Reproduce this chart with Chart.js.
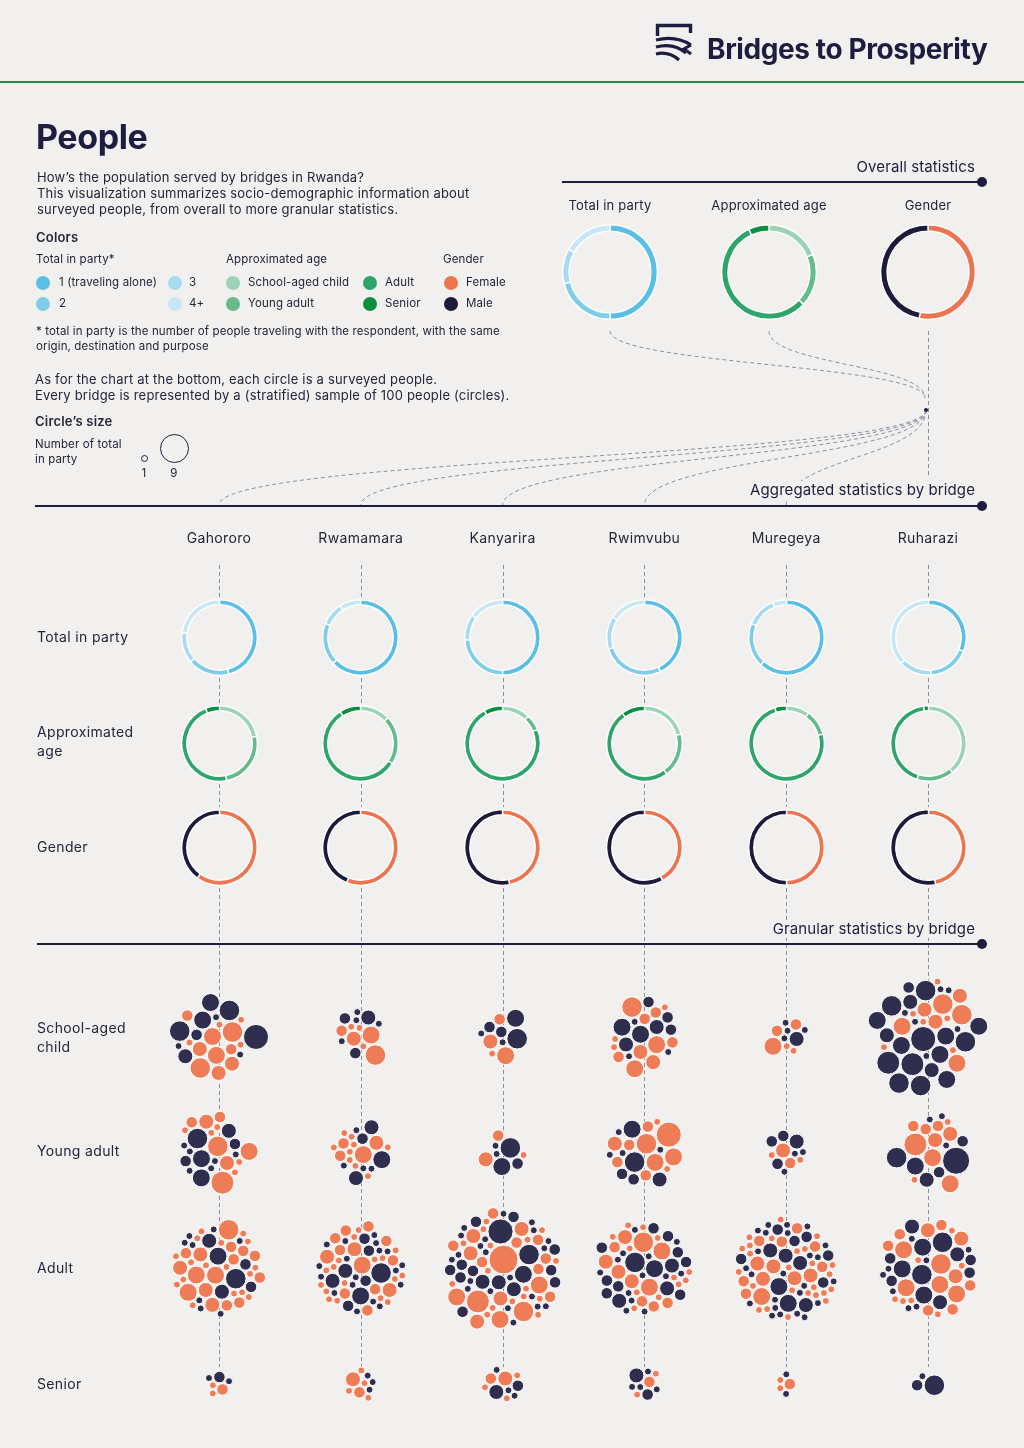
<!DOCTYPE html>
<html>
<head>
<meta charset="utf-8">
<script src="https://cdn.jsdelivr.net/npm/chart.js@4.4.1/dist/chart.umd.min.js"></script>
<style>
  html, body { margin: 0; padding: 0; background: #f1f0ee; }
  #page { position: relative; width: 1024px; height: 1448px; overflow: hidden; background: #f1f0ee;
          font-family: Inter, "Noto Sans", sans-serif; color: #25253a; }
  #page > * { position: absolute; }
  .t { white-space: nowrap; }
  .navy { color: #1d1d3f; }
  .s11 { font-size: 11.5px; line-height: 15px; letter-spacing: 0.12px; }
  .s13 { font-size: 13px; line-height: 16px; letter-spacing: 0.2px; }
  .s14 { font-size: 14px; line-height: 19px; letter-spacing: 0.35px; }
  .s15 { font-size: 15px; line-height: 18px; letter-spacing: 0.1px; }
  .dot { width: 14px; height: 14px; border-radius: 50%; }
  .hline { height: 2px; background: #1d1d3f; }
  .end { width: 10px; height: 10px; border-radius: 50%; background: #1d1d3f; }
  .sec { text-align: right; background: #f1f0ee; padding-left: 6px; }
  .center { transform: translateX(-50%); text-align: center; }
</style>
</head>
<body>
<div id="page">
  <canvas id="people" width="1024" height="1448" style="left:0;top:0;width:1024px;height:1448px;"></canvas>

  <svg style="left:652px;top:21px" width="44" height="44" viewBox="652 21 44 44">
    <path d="M657.5 36 V25.5 H690.5 V33" fill="none" stroke="#1d1d3f" stroke-width="3.4"/>
    <path d="M656 40 C668 37 680 38 691 45" fill="none" stroke="#1d1d3f" stroke-width="3.2"/>
    <path d="M656 47 C667 44 678 46 686 53" fill="none" stroke="#1d1d3f" stroke-width="3.2"/>
    <path d="M656 54 C664 52 672 54 679 60" fill="none" stroke="#1d1d3f" stroke-width="3.2"/>
    <path d="M691 45 L684 49 L691 54" fill="none" stroke="#1d1d3f" stroke-width="3"/>
  </svg>
  <div class="t navy" style="left:707px;top:31px;font-size:28px;line-height:36px;font-weight:700;letter-spacing:-0.4px;">Bridges to Prosperity</div>
  <div style="left:0;top:81px;width:1024px;height:2px;background:#1a923f;"></div>

  <div class="t navy" style="left:36px;top:116px;font-size:34px;line-height:42px;font-weight:700;letter-spacing:-0.4px;">People</div>
  <div class="t s13" style="left:37px;top:169px;">How’s the population served by bridges in Rwanda?<br>This visualization summarizes socio-demographic information about<br>surveyed people, from overall to more granular statistics.</div>
  <div class="t s13" style="left:36px;top:229px;font-weight:600;">Colors</div>
  <div class="t s11" style="left:36px;top:252px;">Total in party*</div>
  <div class="t s11" style="left:226px;top:252px;">Approximated age</div>
  <div class="t s11" style="left:443px;top:252px;">Gender</div>
  <div class="t s11" style="left:36px;top:324px;">* total in party is the number of people traveling with the respondent, with the same<br>origin, destination and purpose</div>
  <div class="t s13" style="left:35px;top:371px;">As for the chart at the bottom, each circle is a surveyed people.<br>Every bridge is represented by a (stratified) sample of 100 people (circles).</div>
  <div class="t s13" style="left:35px;top:413px;font-weight:600;">Circle’s size</div>
  <div class="t s11" style="left:35px;top:437px;">Number of total<br>in party</div>
  <div style="left:141px;top:455px;width:5px;height:5px;border:1px solid #1d1d3f;border-radius:50%;"></div>
  <div style="left:160px;top:434px;width:27px;height:27px;border:1px solid #1d1d3f;border-radius:50%;"></div>
  <div class="t s11 center" style="left:144px;top:466px;">1</div>
  <div class="t s11 center" style="left:174px;top:466px;">9</div>

  <div class="t s15 sec navy" style="right:49px;top:158px;">Overall statistics</div>
  <div class="hline" style="left:562px;top:181px;width:420px;"></div>
  <div class="end" style="left:977px;top:177px;"></div>

  <div class="t s15 sec navy" style="right:49px;top:481px;">Aggregated statistics by bridge</div>
  <div class="hline" style="left:35px;top:505px;width:947px;"></div>
  <div class="end" style="left:977px;top:501px;"></div>
  <div class="t s14" style="left:37px;top:627px;">Total in party</div>
  <div class="t s14" style="left:37px;top:722px;">Approximated<br>age</div>
  <div class="t s14" style="left:37px;top:837px;">Gender</div>

  <div class="t s15 sec navy" style="right:49px;top:920px;">Granular statistics by bridge</div>
  <div class="hline" style="left:37px;top:943px;width:945px;"></div>
  <div class="end" style="left:977px;top:939px;"></div>
  <div class="t s14" style="left:37px;top:1018px;">School-aged<br>child</div>
  <div class="t s14" style="left:37px;top:1141px;">Young adult</div>
  <div class="t s14" style="left:37px;top:1258px;">Adult</div>
  <div class="t s14" style="left:37px;top:1374px;">Senior</div>
</div>

<script>
// ---- data ----
const bridges = ['Gahororo', 'Rwamamara', 'Kanyarira', 'Rwimvubu', 'Muregeya', 'Ruharazi'];
const ageGroups = ['School-aged child', 'Young adult', 'Adult', 'Senior'];
const partyLabels = ['1 (traveling alone)', '2', '3', '4+'];
const genderLabels = ['Female', 'Male'];
const overallTitles = ['Total in party', 'Approximated age', 'Gender'];

// overall donuts (% of surveyed people)
const overallParty = [50, 21, 12, 17];
const overallAge = [19, 18, 56, 7];
const overallGender = [53, 47];

// aggregated donuts, one entry per bridge
const partyByBridge = [[46, 18, 13, 23], [63, 18, 10, 9], [50, 24, 11, 15], [43, 27, 14, 16], [62, 19, 13, 6], [31, 18, 14, 37]];
const ageByBridge = [[22, 25, 47, 6], [13, 21, 57, 9], [12, 7, 73, 8], [21, 19, 50, 10], [10, 11, 74, 5], [39, 16, 43, 2]];
const femaleByBridge = [60, 56, 47, 42, 50, 47];
const maleByBridge = [40, 44, 53, 58, 50, 53];

// granular: one token per surveyed person, F/M + total in party
const childPeople = [
  'F2 F4 F3 F3 F5 F3 F4 F5 M1 M2 M3 M4 F1 F1 F1 M5 M1 M1 M5 M4 F2 M7 F1',
  'F1 F2 F3 M1 F1 M2 M1 F4 M3 M1 F1 M1 M2 F5',
  'M2 M2 F2 F3 M1 M1 M5 M4 F4 F1',
  'M2 F2 F1 M3 F2 M2 M4 F4 F2 F3 M1 M1 F3 M3 M4 F5 M2 M1 F1 F4 F2 F1',
  'M1 M1 M3 F1 F2 M1 M1 F2 F4 F1',
  'F3 F5 F1 F3 M5 M1 M3 F1 F1 M1 M2 F1 M1 M1 M7 F4 M4 F5 M5 F3 M1 M4 M4 M5 M1 M6 F1 M3 M3 F4 M4 M6 M4 M4 M5 F1 M5'
];
const youngPeople = [
  'F1 M5 F3 F2 F1 F5 F1 M4 M1 M1 M3 F2 M1 M2 F3 M1 M1 M2 M4 F6 M1 F1 F4 F1',
  'F1 F2 F2 F1 F1 F1 F4 F1 M1 M2 F1 F1 M1 F3 M1 M4 M3 M1 F1 M3 F1',
  'M4 M1 M5 M2 F1 M1 F3 F2',
  'M5 F2 M2 M1 M2 F2 F4 F5 F2 F3 M4 M1 M1 F2 M1 F7 F4 M3 F1 F1',
  'M2 F3 F2 M1 F1 M1 M3 F1 M1 M2 M2',
  'F3 F3 F2 M1 F2 F1 M1 M1 F6 F4 F2 M8 M2 M4 M2 M3 F4 M5 F1'
];
const adultPeople = [
  'F4 F1 F3 F1 F4 F1 F3 F4 F1 F3 M4 F2 M3 F1 M5 F3 M1 F2 M3 F1 F2 M1 F2 F1 M2 F1 F2 M1 F2 F1 M2 F1 M1 F5 F1 F2 M1 F1 F2 F1 M1 F1 F1 M1 F1 M1 F1',
  'M5 F4 F1 M2 F2 M1 F1 M2 F2 M1 F3 M1 F1 M4 F1 M3 M1 F3 F1 M1 F2 M1 M3 F1 M1 F2 F1 M2 M1 F2 F1 M1 F3 M1 F1 M2 M1 F2 F1 M1 F2 F1 M1 F2 F1 M1 F1 M1 F2 F1 M1 F1 M1 F1 F1 M1',
  'F9 M1 F1 M7 F2 M1 M5 F3 F1 M4 F2 M1 F2 M3 F1 M1 F2 M3 F2 M1 F4 F1 M3 M1 F3 M2 F1 M1 F3 M2 F1 M1 F3 M2 F6 M1 F1 M2 F5 M1 F1 M2 F4 M1 F1 M2 F2 M1 F1 M2 F4 M1 F1 M2 F3 M1 F1 M2 F2 M1 F1 M2 M1 F1 M1 F2 M1 F1 M1 F1 M1 M1',
  'M5 F5 M1 F1 M4 F4 M1 F1 M3 F4 M1 F3 M3 F1 M2 F3 M1 F1 M2 F3 M1 M2 F2 M1 F1 M2 F3 M1 F2 M2 F1 M1 M3 F2 M1 F1 M2 F2 M1 F1 M2 F1 M1 M2 F1 M1 M2 F1 M1 F1',
  'F3 M1 F1 M3 F3 M1 F1 M3 F1 M1 F3 M4 F1 M1 F3 M4 F1 M1 F4 M3 F1 M1 F3 M3 F1 M1 F2 M2 F1 M1 F2 M2 F1 M1 F2 M2 F1 M1 F2 M2 F1 M1 F2 M2 F1 M1 F2 M2 F1 M1 F2 F1 M1 F1 M1 F1 M1 F1 M1 F1 M1 F1 M1 F1 M1 F1 M1 F1 M1 F1 M1 F1 M1 F1',
  'M4 F4 M5 F4 M4 F5 M1 F1 M4 F4 M5 F3 M3 F3 M1 F4 M3 F1 M2 F3 M2 F2 M1 F2 M3 F1 M2 F2 M2 F1 M1 F2 M1 F2 F1 M1 F2 M1 F1 M1 F1'
];
const seniorPeople = [
  'F2 F1 F1 M2 M1 M1',
  'F1 M1 M1 M1 F2 F3 F1 F1 F1',
  'M3 F1 F2 F3 M1 M1 F1 M2 M1 F1',
  'F1 M1 M2 F2 M1 M3 M1 M1 F1',
  'F2 F1 F1 M1 M1',
  'M5 M2 M1'
];

// ---- colours ----
const partyColors = ['#5bbee4', '#80cdea', '#a6dbf0', '#c6e7f3'];
const ageColors = ['#9bd3b6', '#66bb8d', '#2fa56b', '#0a8f3f'];
const genderColors = ['#ec7550', '#1c1b3c'];
const bubbleFemale = '#ee7d57';
const bubbleMale = '#302e4f';

// ---- layout ----
const colStart = 219, colPitch = 141.8;   // bridge columns
const rowStart = 1037, rowPitch = 115.7;  // granular rows
const overallX = [610, 769, 928], overallY = 272;
const aggY = [637, 743, 847];
const hub = { x: 926, y: 410 };
const page = document.getElementById('page');

function add(html) { page.insertAdjacentHTML('beforeend', html); }

// legend
[[partyLabels[0], partyColors[0], 43, 59, 283], [partyLabels[1], partyColors[1], 43, 59, 304],
 [partyLabels[2], partyColors[2], 175, 189, 283], [partyLabels[3], partyColors[3], 175, 189, 304],
 [ageGroups[0], ageColors[0], 233, 248, 283], [ageGroups[1], ageColors[1], 233, 248, 304],
 [ageGroups[2], ageColors[2], 370, 385, 283], [ageGroups[3], ageColors[3], 370, 385, 304],
 [genderLabels[0], genderColors[0], 451, 466, 283], [genderLabels[1], genderColors[1], 451, 466, 304]
].forEach(([label, color, dx, tx, y]) => {
  add(`<div class="dot" style="left:${dx - 7}px;top:${y - 7}px;background:${color}"></div>`);
  add(`<div class="t s11" style="left:${tx}px;top:${y - 8}px">${label}</div>`);
});

overallTitles.forEach((title, i) => {
  add(`<div class="t s13 center" style="left:${overallX[i]}px;top:197px">${title}</div>`);
});
bridges.forEach((name, i) => {
  add(`<div class="t s14 center" style="left:${colStart + colPitch * i}px;top:528px">${name}</div>`);
});

function donut(cx, cy, size, values, colors, labels) {
  const c = document.createElement('canvas');
  c.width = size; c.height = size;
  c.style.cssText = `left:${cx - size / 2}px;top:${cy - size / 2}px;width:${size}px;height:${size}px;`;
  page.appendChild(c);
  new Chart(c, {
    type: 'doughnut',
    data: { labels, datasets: [{ data: values, backgroundColor: colors, borderColor: '#ffffff', borderWidth: 1.4 }] },
    options: {
      responsive: false, animation: false, devicePixelRatio: 1, cutout: '86.5%',
      plugins: { legend: { display: false }, tooltip: { enabled: false } }
    }
  });
}

donut(overallX[0], overallY, 96, overallParty, partyColors, partyLabels);
donut(overallX[1], overallY, 96, overallAge, ageColors, ageGroups);
donut(overallX[2], overallY, 96, overallGender, genderColors, genderLabels);
bridges.forEach((b, i) => {
  const x = colStart + colPitch * i;
  donut(x, aggY[0], 77, partyByBridge[i], partyColors, partyLabels);
  donut(x, aggY[1], 77, ageByBridge[i], ageColors, ageGroups);
  donut(x, aggY[2], 77, [femaleByBridge[i], maleByBridge[i]], genderColors, genderLabels);
});

// ---- circle packing for the granular clusters ----
// visible fill radius for a party size; a 1px white halo sits outside it
function radiusFor(n) { return 3 + 11 * (Math.sqrt(n) - 1) / 2; }

function packCluster(tokens) {
  const items = tokens.trim().split(/\s+/).map(t => ({ g: t[0], n: +t.slice(1), r: radiusFor(+t.slice(1)) + 1 }));
  const placed = [];
  const gap = 0.2;
  for (const it of items) {
    if (!placed.length) { placed.push({ ...it, x: 0, y: 0 }); continue; }
    let sx = 0, sy = 0, sw = 0;
    placed.forEach(p => { const w = p.r * p.r; sx += p.x * w; sy += p.y * w; sw += w; });
    const cx = sx / sw, cy = sy / sw;
    const cands = [];
    for (const p of placed) {
      const d = p.r + it.r + gap;
      for (let k = 0; k < 16; k++) {
        const a = Math.PI + k * Math.PI / 8;
        cands.push([p.x + d * Math.cos(a), p.y + d * Math.sin(a)]);
      }
    }
    for (let i = 0; i < placed.length; i++) {
      for (let j = i + 1; j < placed.length; j++) {
        const a = placed[i], b = placed[j];
        const ra = a.r + it.r + gap, rb = b.r + it.r + gap;
        const dx = b.x - a.x, dy = b.y - a.y, d = Math.hypot(dx, dy);
        if (d === 0 || d > ra + rb || d < Math.abs(ra - rb)) continue;
        const l = (ra * ra - rb * rb + d * d) / (2 * d);
        const h = Math.sqrt(Math.max(0, ra * ra - l * l));
        const mx = a.x + dx * l / d, my = a.y + dy * l / d;
        cands.push([mx - dy * h / d, my + dx * h / d], [mx + dy * h / d, my - dx * h / d]);
      }
    }
    let best = null, bestD = Infinity;
    for (const c of cands) {
      const dd = Math.hypot(c[0] - cx, c[1] - cy);
      if (dd >= bestD) continue;
      let ok = true;
      for (const p of placed) {
        if (Math.hypot(c[0] - p.x, c[1] - p.y) < p.r + it.r + gap - 0.01) { ok = false; break; }
      }
      if (ok) { best = c; bestD = dd; }
    }
    placed.push({ ...it, x: best[0], y: best[1] });
  }
  let x0 = Infinity, x1 = -Infinity, y0 = Infinity, y1 = -Infinity;
  placed.forEach(p => {
    x0 = Math.min(x0, p.x - p.r); x1 = Math.max(x1, p.x + p.r);
    y0 = Math.min(y0, p.y - p.r); y1 = Math.max(y1, p.y + p.r);
  });
  placed.forEach(p => { p.x -= (x0 + x1) / 2; p.y -= (y0 + y1) / 2; });
  return placed;
}

const females = [], males = [];
[childPeople, youngPeople, adultPeople, seniorPeople].forEach((group, row) => {
  group.forEach((tokens, col) => {
    packCluster(tokens).forEach(p => {
      // bubble radius sits in the middle of the 1px white border
      const pt = { x: col + p.x / colPitch, y: row + p.y / rowPitch, r: p.r - 0.5 };
      (p.g === 'F' ? females : males).push(pt);
    });
  });
});

// dashed guides behind the clusters
function linkVertical(ctx, x0, y0, x1, y1) {
  const ym = (y0 + y1) / 2;
  ctx.beginPath();
  ctx.moveTo(x0, y0);
  ctx.bezierCurveTo(x0, ym, x1, ym, x1, y1);
  ctx.stroke();
}

const guides = {
  id: 'guides',
  beforeDatasetsDraw(chart) {
    const ctx = chart.ctx, xs = chart.scales.x, ys = chart.scales.y;
    ctx.save();
    ctx.strokeStyle = '#8e8ca2';
    ctx.lineWidth = 1;
    ctx.setLineDash([4, 3]);
    // overall -> hub
    linkVertical(ctx, overallX[0], 331, hub.x - 1, hub.y - 12);
    linkVertical(ctx, overallX[1], 331, hub.x - 1, hub.y - 12);
    ctx.beginPath(); ctx.moveTo(overallX[2] + 0.5, 331); ctx.lineTo(overallX[2] + 0.5, 478); ctx.stroke();
    // hub -> bridges
    bridges.slice(0, 5).forEach((b, i) => {
      linkVertical(ctx, hub.x, hub.y, xs.getPixelForValue(i), 505);
    });
    // column guides
    const seniorTop = ys.getPixelForValue(3) - 17;
    const segs = [[565, aggY[0] - 40], [aggY[0] + 41, aggY[1] - 40], [aggY[1] + 41, aggY[2] - 40], [aggY[2] + 41, seniorTop]];
    bridges.forEach((b, i) => {
      const px = Math.round(xs.getPixelForValue(i)) + 0.5;
      segs.forEach(([a, z]) => { ctx.beginPath(); ctx.moveTo(px, a); ctx.lineTo(px, z); ctx.stroke(); });
    });
    ctx.setLineDash([]);
    ctx.fillStyle = '#1d1d3f';
    ctx.beginPath(); ctx.arc(hub.x, hub.y, 2, 0, Math.PI * 2); ctx.fill();
    ctx.restore();
  }
};

new Chart(document.getElementById('people'), {
  type: 'bubble',
  data: {
    datasets: [
      { label: 'Female', data: females, backgroundColor: bubbleFemale, borderColor: '#ffffff', borderWidth: 1 },
      { label: 'Male', data: males, backgroundColor: bubbleMale, borderColor: '#ffffff', borderWidth: 1 }
    ]
  },
  options: {
    responsive: false, animation: false, devicePixelRatio: 1,
    layout: { padding: 0, autoPadding: false },
    scales: {
      x: { type: 'linear', display: false, min: -colStart / colPitch, max: (1024 - colStart) / colPitch },
      y: { type: 'linear', display: false, reverse: true, min: -rowStart / rowPitch, max: (1448 - rowStart) / rowPitch }
    },
    plugins: { legend: { display: false }, tooltip: { enabled: false } }
  },
  plugins: [guides]
});
</script>
</body>
</html>
